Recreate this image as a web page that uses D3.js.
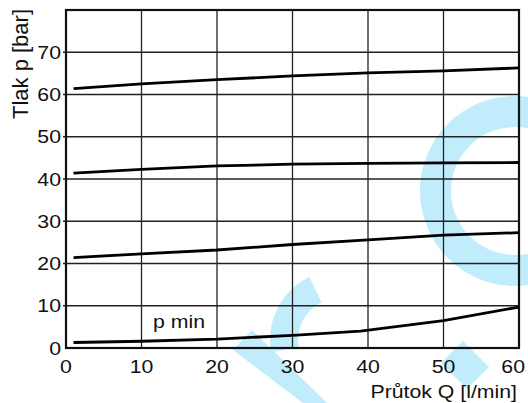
<!DOCTYPE html>
<html>
<head>
<meta charset="utf-8">
<script src="https://cdn.jsdelivr.net/npm/d3@7.9.0/dist/d3.min.js"></script>
<style>
  body { margin: 0; background: #fff; }
  svg { display: block; font-family: "Liberation Sans", Arial, sans-serif; }
</style>
</head>
<body>
<div id="chart"></div>
<script>
// flow Q [l/min] and pressure curves p [bar]
const flow = [1, 10, 20, 30, 40, 50, 60];
const p60 = [61.4, 62.5, 63.5, 64.4, 65.1, 65.6, 66.3];
const p40 = [41.4, 42.3, 43.1, 43.5, 43.7, 43.8, 43.9];
const p20 = [21.4, 22.3, 23.2, 24.5, 25.6, 26.7, 27.3];
const flowMin = [1, 10, 20, 30, 39, 50, 60];
const pMin = [1.3, 1.6, 2.1, 3.0, 4.0, 6.5, 9.7];

const xTicks = [0, 10, 20, 30, 40, 50, 60];
const yTicks = [0, 10, 20, 30, 40, 50, 60, 70];

const width = 528, height = 403;
const margin = { top: 10, right: 9, bottom: 55, left: 66 };

const svg = d3.select('#chart').append('svg')
  .attr('width', width)
  .attr('height', height);

const xScale = d3.scaleLinear().domain([0, 60]).range([margin.left, width - margin.right]);
const yScale = d3.scaleLinear().domain([0, 80]).range([height - margin.bottom, margin.top]);

// background watermark (decoration only)
const wm = svg.append('g').attr('fill', '#c0ecfc');
wm.append('path')
  .attr('transform', 'translate(515,191)')
  .attr('d', d3.arc()({ innerRadius: 64, outerRadius: 95, startAngle: 0, endAngle: 2 * Math.PI }));
wm.append('path')
  .attr('transform', 'translate(340,340)')
  .attr('d', d3.arc()({ innerRadius: 42, outerRadius: 70, startAngle: -100 * Math.PI / 180, endAngle: -26 * Math.PI / 180 }));
wm.append('polygon').attr('points', '252,330 327,403 303,403 233,350');
wm.append('polygon').attr('points', '463,341 489,367 467,389 441,363');

// grid
const grid = svg.append('g').attr('stroke', '#222').attr('stroke-width', 1.3);
grid.selectAll('line.v')
  .data(xTicks.slice(1, -1))
  .join('line')
  .attr('class', 'v')
  .attr('x1', d => xScale(d)).attr('x2', d => xScale(d))
  .attr('y1', yScale(80)).attr('y2', yScale(0));
grid.selectAll('line.h')
  .data(yTicks.slice(1))
  .join('line')
  .attr('class', 'h')
  .attr('x1', xScale(0) - 3).attr('x2', xScale(60))
  .attr('y1', d => yScale(d)).attr('y2', d => yScale(d));

// frame
svg.append('rect')
  .attr('x', xScale(0)).attr('y', yScale(80))
  .attr('width', xScale(60) - xScale(0))
  .attr('height', yScale(0) - yScale(80))
  .attr('fill', 'none')
  .attr('stroke', '#111')
  .attr('stroke-width', 2.2);

// curves
const line = d3.line().x(d => xScale(d[0])).y(d => yScale(d[1]));
const series = [
  d3.zip(flow, p60),
  d3.zip(flow, p40),
  d3.zip(flow, p20),
  d3.zip(flowMin, pMin)
];
svg.append('g').selectAll('path')
  .data(series)
  .join('path')
  .attr('d', line)
  .attr('fill', 'none')
  .attr('stroke', '#000')
  .attr('stroke-width', 2.8)
  .attr('stroke-linejoin', 'round');

// text helper, glyphs in the picture are a bit wider than they are tall
function label(x, y, txt, anchor, size) {
  return svg.append('text')
    .attr('transform', `translate(${x},${y}) scale(1.15,1)`)
    .attr('text-anchor', anchor)
    .attr('font-size', size)
    .attr('fill', '#111')
    .text(txt);
}

yTicks.forEach(d => label(61, yScale(d) + 6.6, d, 'end', 18.5));
// last x label is pulled in so it stays inside the picture
xTicks.forEach((d, i) => {
  if (i === xTicks.length - 1) label(525, 372.5, d, 'end', 18.5);
  else label(xScale(d), 372.5, d, 'middle', 18.5);
});

label(517, 398, 'Průtok Q [l/min]', 'end', 18.5);
label(153, 328, 'p min', 'start', 18.5);

svg.append('text')
  .attr('transform', 'translate(28,64) rotate(-90)')
  .attr('text-anchor', 'middle')
  .attr('font-size', 22)
  .attr('fill', '#111')
  .text('Tlak p [bar]');
</script>
</body>
</html>
